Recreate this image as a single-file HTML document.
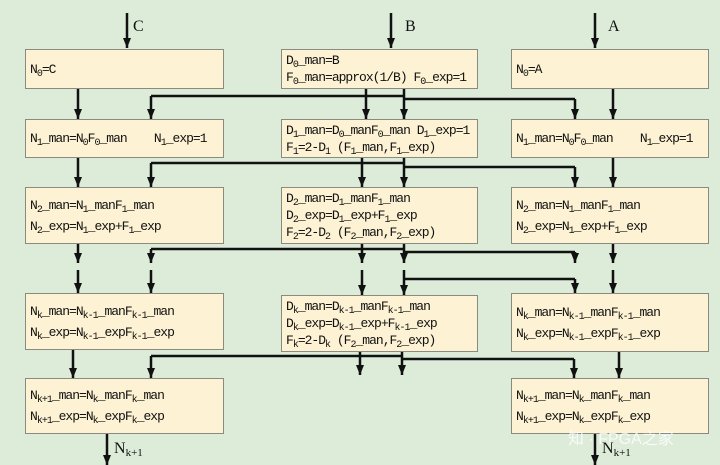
<!DOCTYPE html>
<html><head><meta charset="utf-8"><style>
body{margin:0;width:720px;height:465px;background:#dcecd9;position:relative;overflow:hidden;font-family:"Liberation Mono","DejaVu Sans Mono",monospace;font-size:13px;color:#111}
.b{position:absolute;background:#fdf2d3;border:1px solid #8a8a80;box-sizing:border-box;display:flex;flex-direction:column;justify-content:center;padding-left:4px;letter-spacing:-1px}
.b div{line-height:17px;white-space:nowrap}
.w div{line-height:21px}
sub{font-size:10px;vertical-align:-3px;line-height:0}
svg{position:absolute;left:0;top:0}
.l{position:absolute;font-family:"Liberation Serif",serif;font-size:16px}
</style></head><body>
<svg width="720" height="465">
<defs><marker id="a" markerWidth="10" markerHeight="8" refX="10" refY="4" orient="auto" markerUnits="userSpaceOnUse"><path d="M0,0 L10,4 L0,8 z" fill="#111"/></marker></defs>
<g stroke="#111" stroke-width="2.5" fill="none" marker-end="url(#a)">
<path d="M127,13V48"/><path d="M391,13V48"/><path d="M595,13V48"/>
<path d="M78,89V119"/><path d="M613,89V119"/><path d="M366,89V119"/><path d="M404,89V119"/><path d="M151,96V119"/><path d="M575,99V119"/>
<path d="M78,158V187"/><path d="M613,158V187"/><path d="M362,158V187"/><path d="M404,158V187"/><path d="M151,163V187"/><path d="M575,167V187"/>
<path d="M78,244V263"/><path d="M613,244V263"/><path d="M362,244V263"/><path d="M404,244V263"/><path d="M151,249V263"/><path d="M575,252V263"/>
<path d="M78,270V293"/><path d="M151,270V293"/><path d="M613,270V293"/><path d="M362,270V295"/><path d="M404,270V295"/><path d="M575,279V293"/>
<path d="M73,350V378"/><path d="M619,352V378"/><path d="M151,356V378"/><path d="M360,352V375"/><path d="M402,352V375"/><path d="M574,359V378"/>
<path d="M107,434V465"/><path d="M595,434V465"/>
</g>
<g stroke="#111" stroke-width="2.5" fill="none">
<path d="M151,96H404M404,99H575"/>
<path d="M151,163H404M404,167H575"/>
<path d="M151,249H404M404,252H575"/>
<path d="M404,279H575"/>
<path d="M151,356H402M402,359H574"/>
</g>
</svg>
<div class="l" style="left:133px;top:18px">C</div>
<div class="l" style="left:405px;top:18px">B</div>
<div class="l" style="left:608px;top:18px">A</div>
<div class="l" style="left:114px;top:440px">N<sub style="font-size:11px">k+1</sub></div>
<div class="l" style="left:602px;top:440px">N<sub style="font-size:11px">k+1</sub></div>

<div class="b" style="left:25px;top:49px;width:199px;height:40px"><div>N<sub>0</sub>=C</div></div>
<div class="b" style="left:281px;top:49px;width:197px;height:40px"><div>D<sub>0</sub>_man=B</div><div>F<sub>0</sub>_man=approx(1/B) F<sub>0</sub>_exp=1</div></div>
<div class="b" style="left:511px;top:49px;width:198px;height:40px"><div>N<sub>0</sub>=A</div></div>

<div class="b" style="left:25px;top:119px;width:199px;height:39px"><div>N<sub>1</sub>_man=N<sub>0</sub>F<sub>0</sub>_man&nbsp;&nbsp;&nbsp; N<sub>1</sub>_exp=1</div></div>
<div class="b" style="left:281px;top:119px;width:197px;height:39px"><div>D<sub>1</sub>_man=D<sub>0</sub>_manF<sub>0</sub>_man D<sub>1</sub>_exp=1</div><div>F<sub>1</sub>=2-D<sub>1</sub> (F<sub>1</sub>_man,F<sub>1</sub>_exp)</div></div>
<div class="b" style="left:511px;top:119px;width:198px;height:39px"><div>N<sub>1</sub>_man=N<sub>0</sub>F<sub>0</sub>_man&nbsp;&nbsp;&nbsp; N<sub>1</sub>_exp=1</div></div>

<div class="b w" style="left:25px;top:187px;width:199px;height:57px"><div>N<sub>2</sub>_man=N<sub>1</sub>_manF<sub>1</sub>_man</div><div>N<sub>2</sub>_exp=N<sub>1</sub>_exp+F<sub>1</sub>_exp</div></div>
<div class="b" style="left:281px;top:187px;width:197px;height:57px"><div>D<sub>2</sub>_man=D<sub>1</sub>_manF<sub>1</sub>_man</div><div>D<sub>2</sub>_exp=D<sub>1</sub>_exp+F<sub>1</sub>_exp</div><div>F<sub>2</sub>=2-D<sub>2</sub> (F<sub>2</sub>_man,F<sub>2</sub>_exp)</div></div>
<div class="b w" style="left:511px;top:187px;width:198px;height:57px"><div>N<sub>2</sub>_man=N<sub>1</sub>_manF<sub>1</sub>_man</div><div>N<sub>2</sub>_exp=N<sub>1</sub>_exp+F<sub>1</sub>_exp</div></div>

<div class="b w" style="left:25px;top:293px;width:199px;height:57px"><div>N<sub>k</sub>_man=N<sub>k-1</sub>_manF<sub>k-1</sub>_man</div><div>N<sub>k</sub>_exp=N<sub>k-1</sub>_expF<sub>k-1</sub>_exp</div></div>
<div class="b" style="left:281px;top:295px;width:197px;height:57px"><div>D<sub>k</sub>_man=D<sub>k-1</sub>_manF<sub>k-1</sub>_man</div><div>D<sub>k</sub>_exp=D<sub>k-1</sub>_exp+F<sub>k-1</sub>_exp</div><div>F<sub>k</sub>=2-D<sub>k</sub> (F<sub>2</sub>_man,F<sub>2</sub>_exp)</div></div>
<div class="b w" style="left:511px;top:293px;width:198px;height:59px"><div>N<sub>k</sub>_man=N<sub>k-1</sub>_manF<sub>k-1</sub>_man</div><div>N<sub>k</sub>_exp=N<sub>k-1</sub>_expF<sub>k-1</sub>_exp</div></div>

<div class="b w" style="left:25px;top:378px;width:199px;height:56px"><div>N<sub>k+1</sub>_man=N<sub>k</sub>_manF<sub>k</sub>_man</div><div>N<sub>k+1</sub>_exp=N<sub>k</sub>_expF<sub>k</sub>_exp</div></div>
<div class="b w" style="left:511px;top:378px;width:198px;height:56px"><div>N<sub>k+1</sub>_man=N<sub>k</sub>_manF<sub>k</sub>_man</div><div>N<sub>k+1</sub>_exp=N<sub>k</sub>_expF<sub>k</sub>_exp</div></div>
<div style="position:absolute;left:568px;top:425px;font-family:'Liberation Sans','Noto Sans CJK SC',sans-serif;font-size:16px;color:#fff;opacity:0.8">知 · FPGA之家</div>
</body></html>
